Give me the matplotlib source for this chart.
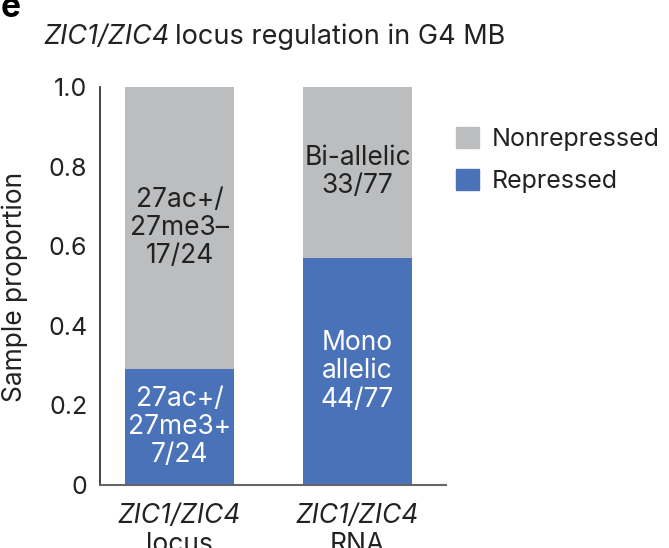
import matplotlib
matplotlib.use("Agg")
import matplotlib.pyplot as plt
from matplotlib.patches import Patch

plt.rcParams['font.family'] = ['Inter', 'DejaVu Sans']

# data
categories = ["locus", "RNA"]
repressed = [7 / 24, 44 / 77]
nonrepressed = [17 / 24, 33 / 77]
repressed_text = ["27ac+/\n27me3+\n7/24", "Mono\nallelic\n44/77"]
nonrepressed_text = ["27ac+/\n27me3\u2013\n17/24", "Bi-allelic\n33/77"]
yticks = [0, 0.2, 0.4, 0.6, 0.8, 1.0]
ytick_labels = ["0", "0.2", "0.4", "0.6", "0.8", "1.0"]

gray = "#bcbdbf"
blue = "#4a72b9"
ink = "#222222"
fs = 19

fig = plt.figure(figsize=(6.69, 5.48), dpi=100)
ax = fig.add_axes([100 / 669, 1 - 485 / 548, 346 / 669, 398 / 548])

x = range(len(categories))
ax.bar(x, repressed, width=0.612, color=blue)
ax.bar(x, nonrepressed, bottom=repressed, width=0.612, color=gray)

for i in x:
    ax.text(i, repressed[i] / 2, repressed_text[i], ha="center", va="center",
            color="white", fontsize=fs, linespacing=1.12)
    ax.text(i, repressed[i] + nonrepressed[i] / 2, nonrepressed_text[i],
            ha="center", va="center", color=ink, fontsize=fs, linespacing=1.12)

ax.set_xlim(-0.447, 1.497)
ax.set_ylim(0, 1)
ax.set_yticks(yticks)
ax.set_yticklabels(ytick_labels, fontsize=18, color=ink)
ax.tick_params(axis="y", length=0, pad=9)
ax.set_xticks(list(x))
ax.set_xticklabels([])
ax.tick_params(axis="x", length=0)
for i, c in enumerate(categories):
    ax.text(i, -0.045, "ZIC1/ZIC4", ha="center", va="top", fontsize=fs,
            style="italic", color=ink)
    ax.text(i, -0.118, c, ha="center", va="top", fontsize=fs, color=ink)

for s in ["top", "right"]:
    ax.spines[s].set_visible(False)
ax.spines["left"].set_color(ink)
ax.spines["bottom"].set_color("#666666")
ax.spines["left"].set_linewidth(1.2)
ax.spines["bottom"].set_linewidth(1.5)

fig.text(15 / 669, 1 - 287 / 548, "Sample proportion", fontsize=fs, color=ink,
         rotation=90, ha="center", va="center")

handles = [Patch(color=gray, label="Nonrepressed"), Patch(color=blue, label="Repressed")]
fig.legend(handles=handles, loc="upper left", bbox_to_anchor=(456 / 669, 1 - 127 / 548),
           frameon=False, fontsize=18, handlelength=0.9, handleheight=0.9,
           handletextpad=0.55, labelspacing=0.72, labelcolor=ink,
           borderpad=0, borderaxespad=0)

t1 = fig.text(43 / 669, 1 - 37 / 548, "ZIC1/ZIC4", fontsize=19.5, style="italic",
              color=ink, va="center")
fig.canvas.draw()
bb = t1.get_window_extent()
fig.text((bb.x1 + 6) / 669, 1 - 37 / 548, "locus regulation in G4 MB", fontsize=19.5,
         color=ink, va="center")
fig.text(1 / 669, 1 - 8 / 548, "e", fontsize=24, fontweight="bold", va="center")

fig.savefig("out.png", dpi=100)
